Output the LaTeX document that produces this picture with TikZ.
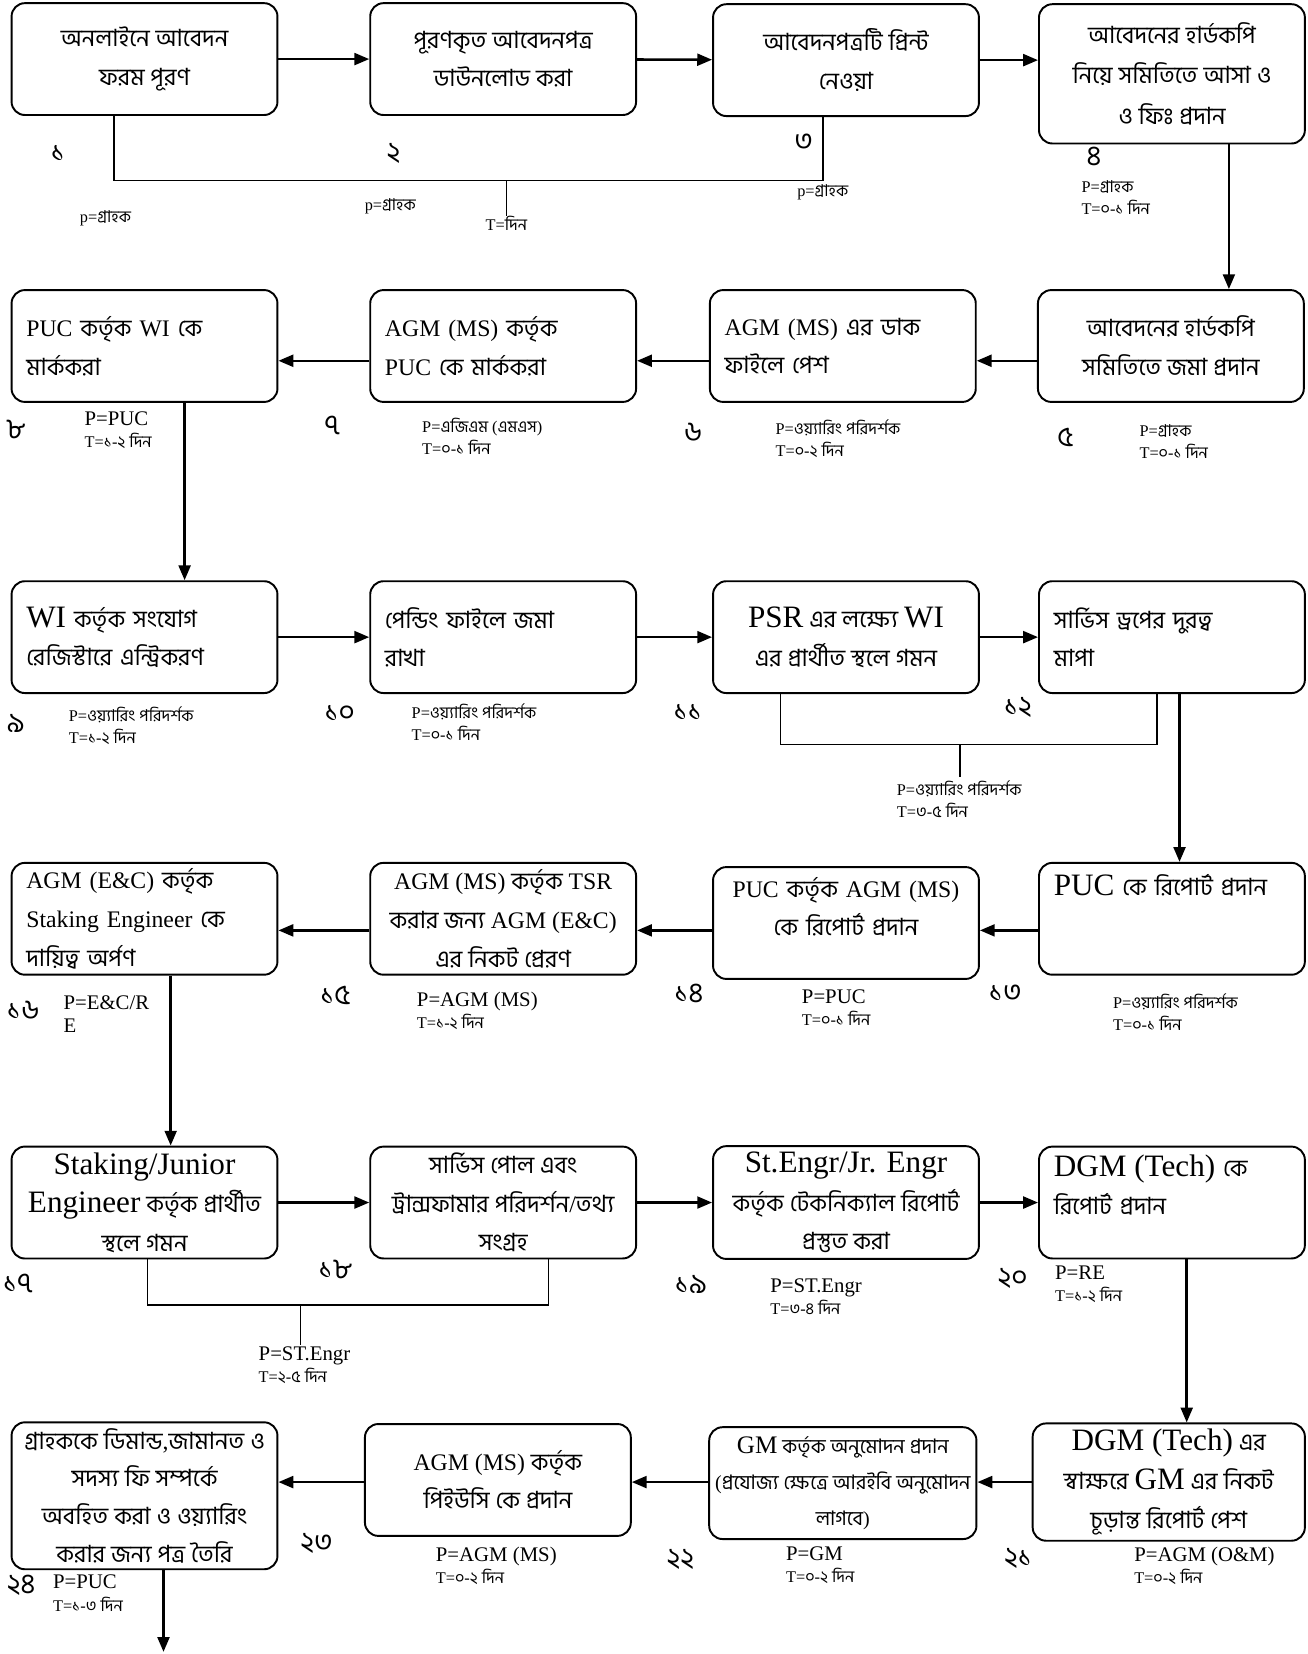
\documentclass[tikz,border=0pt]{standalone}
\usepackage{fontspec}
\setmainfont{Liberation Serif}
\newfontfamily\bnfont[Script=Bengali]{Hind Siliguri}
\usetikzlibrary{arrows.meta}

% Bengali letters switch to the Bengali face by themselves
\XeTeXinterchartokenstate=1
\newXeTeXintercharclass\bnclass
\count255="0980
\loop\ifnum\count255<"0A00
  \XeTeXcharclass\count255=\bnclass
  \advance\count255 by 1
\repeat
\XeTeXinterchartoks 0 \bnclass={\begingroup\bnfont}
\XeTeXinterchartoks 4095 \bnclass={\begingroup\bnfont}
\XeTeXinterchartoks \bnclass 0={\endgroup}
\XeTeXinterchartoks \bnclass 4095={\endgroup}

\newcommand\lat[1]{{\fontsize{21}{26}\selectfont #1}}
\newcommand\roletxt[1]{{\fontsize{14}{15}\selectfont #1}}

\begin{document}
\begin{tikzpicture}[x=0.025cm, y=-0.025cm,
    % Define Styles
    stage/.style={
        draw,
        rounded corners=9pt,
        line width=1.3pt,
        minimum width=6.3cm,
        minimum height=2.65cm,
        align=center,
        inner sep=4pt,
        font=\fontsize{16}{26}\selectfont
    },
    lstage/.style={
        stage,
        align=left,
        text width=5.6cm
    },
    flow/.style={
        draw,
        line width=1.7pt,
        -{Triangle[length=10pt,width=8pt]}
    },
    link/.style={
        draw,
        line width=1pt
    },
    stepno/.style={
        font=\fontsize{19}{20}\selectfont
    },
    tag/.style={
        align=left,
        anchor=north west,
        inner sep=0pt,
        font=\fontsize{11}{15}\selectfont
    }
    ]

    \useasboundingbox[fill=white] (0,0) rectangle (1240,1568);

    % Row 1
    \node[stage] (s1) at (137,56) {অনলাইনে আবেদন\\ফরম পূরণ};
    \node[stage] (s2) at (477,56) {পূরণকৃত আবেদনপত্র\\ডাউনলোড করা};
    \node[stage] (s3) at (802,57) {আবেদনপত্রটি প্রিন্ট\\নেওয়া};
    \node[stage, minimum height=3.3cm, font=\fontsize{16}{27}\selectfont] (s4) at (1111,70) {আবেদনের হার্ডকপি\\নিয়ে সমিতিতে আসা ও\\ও ফিঃ প্রদান};

    % Row 2
    \node[stage] (s5) at (1110,328) {আবেদনের হার্ডকপি\\সমিতিতে জমা প্রদান};
    \node[lstage] (s6) at (799,328) {AGM (MS) এর ডাক\\ফাইলে পেশ};
    \node[lstage] (s7) at (477,328) {AGM (MS) কর্তৃক\\PUC কে মার্ককরা};
    \node[lstage] (s8) at (137,328) {PUC কর্তৃক WI কে\\মার্ককরা};

    % Row 3
    \node[lstage] (s9) at (137,604) {\lat{WI} কর্তৃক সংযোগ\\রেজিস্টারে এন্ট্রিকরণ};
    \node[lstage] (s10) at (477,604) {পেন্ডিং ফাইলে জমা\\রাখা};
    \node[stage] (s11) at (802,604) {\lat{PSR} এর লক্ষ্যে \lat{WI}\\এর প্রার্থীত স্থলে গমন};
    \node[lstage] (s12) at (1111,604) {সার্ভিস ড্রপের দুরত্ব\\মাপা};

    % Row 4
    \node[lstage, text depth=1.6cm] (s13) at (1111,871) {\lat{PUC} কে রিপোর্ট প্রদান};
    \node[lstage, align=center, text depth=1.7cm] (s14) at (802,875) {PUC কর্তৃক AGM (MS)\\কে রিপোর্ট প্রদান};
    \node[stage] (s15) at (477,871) {AGM (MS) কর্তৃক TSR\\করার জন্য AGM (E\&C)\\এর নিকট প্রেরণ};
    \node[lstage] (s16) at (137,871) {AGM (E\&C) কর্তৃক\\Staking Engineer কে\\দায়িত্ব অর্পণ};

    % Row 5
    \node[stage] (s17) at (137,1140) {\lat{Staking/Junior}\\\lat{Engineer} কর্তৃক প্রার্থীত\\স্থলে গমন};
    \node[stage] (s18) at (477,1140) {সার্ভিস পোল এবং\\ট্রান্সফামার পরিদর্শন/তথ্য\\সংগ্রহ};
    \node[stage] (s19) at (802,1140) {\lat{St.Engr/Jr. Engr}\\কর্তৃক টেকনিক্যাল রিপোর্ট\\প্রস্তুত করা};
    \node[lstage, text depth=1.75cm] (s20) at (1111,1140) {\lat{DGM (Tech)} কে\\রিপোর্ট প্রদান};

    % Row 6
    \node[stage, minimum width=6.45cm] (s21) at (1108,1405) {\lat{DGM (Tech)} এর\\স্বাক্ষরে \lat{GM} এর নিকট\\চূড়ান্ত রিপোর্ট পেশ};
    \node[stage, font=\fontsize{13.5}{24}\selectfont] (s22) at (799,1406) {{\fontsize{17}{24}\selectfont GM} কর্তৃক অনুমোদন প্রদান\\(প্রযোজ্য ক্ষেত্রে আরইবি অনুমোদন\\লাগবে)};
    \node[stage] (s23) at (472,1403) {AGM (MS) কর্তৃক\\পিইউসি কে প্রদান};
    \node[stage, minimum height=3.43cm, font=\fontsize{16}{25.5}\selectfont] (s24) at (137,1418) {গ্রাহককে ডিমান্ড,জামানত ও\\সদস্য ফি সম্পর্কে\\অবহিত করা ও ওয়্যারিং\\করার জন্য পত্র তৈরি};

    % Row arrows
    \draw[flow] (s1) -- (s2);
    \draw[flow] (s2) -- (s3);
    \draw[flow] (s3.east) -- (s3.east -| s4.west);

    \coordinate (r2) at (0,342);
    \draw[flow] (s5.west |- r2) -- (s6.east |- r2);
    \draw[flow] (s6.west |- r2) -- (s7.east |- r2);
    \draw[flow] (s7.west |- r2) -- (s8.east |- r2);

    \draw[flow] (s9) -- (s10);
    \draw[flow] (s10) -- (s11);
    \draw[flow] (s11) -- (s12);

    \coordinate (r4) at (0,882);
    \draw[flow] (s13.west |- r4) -- (s14.east |- r4);
    \draw[flow] (s14.west |- r4) -- (s15.east |- r4);
    \draw[flow] (s15.west |- r4) -- (s16.east |- r4);

    \draw[flow] (s17) -- (s18);
    \draw[flow] (s18) -- (s19);
    \draw[flow] (s19) -- (s20);

    \coordinate (r6) at (0,1405);
    \draw[flow] (s21.west |- r6) -- (s22.east |- r6);
    \draw[flow] (s22.west |- r6) -- (s23.east |- r6);
    \draw[flow] (s23.west |- r6) -- (s24.east |- r6);

    % Down arrows between rows
    \draw[flow] ([xshift=1.35cm]s4.south) -- ([xshift=1.35cm]s4.south |- s5.north);
    \draw[flow] ([xshift=0.95cm]s8.south) -- ([xshift=0.95cm]s8.south |- s9.north);
    \draw[flow] ([xshift=0.18cm]s12.south) -- ([xshift=0.18cm]s12.south |- s13.north);
    \draw[flow] ([xshift=0.62cm]s16.south) -- ([xshift=0.62cm]s16.south |- s17.north);
    \draw[flow] ([xshift=0.35cm]s20.south) -- ([xshift=0.35cm]s20.south |- s21.north);
    \coordinate (fin) at (155,1566);
    \draw[flow] (s24.south -| fin) -- (fin);

    % Brackets
    \coordinate (j1) at (108,171);
    \coordinate (j3) at (780,171);
    \coordinate (t1) at (480,205);
    \draw[link] (s1.south -| j1) -- (j1) -- (j3) -- (s3.south -| j3);
    \draw[link] (t1 |- j1) -- (t1);

    \coordinate (j11) at (740,706);
    \coordinate (j12) at (1097,706);
    \coordinate (t11) at (910,737);
    \draw[link] (s11.south -| j11) -- (j11) -- (j12) -- (s12.south -| j12);
    \draw[link] (t11 |- j11) -- (t11);

    \coordinate (j17) at (140,1237);
    \coordinate (j18) at (520,1237);
    \coordinate (t17) at (285,1275);
    \draw[link] (s17.south -| j17) -- (j17) -- (j18) -- (s18.south -| j18);
    \draw[link] (t17 |- j17) -- (t17);

    % Step numbers
    \node[stepno] (n1) at (55,145) {১};
    \node[stepno] (n2) at (373,145) {২};
    \node[stepno] (n3) at (762,135) {৩};
    \node[stepno] (n4) at (1037,148) {৪};
    \node[stepno] (n5) at (1010,415) {৫};
    \node[stepno] (n6) at (657,410) {৬};
    \node[stepno] (n7) at (315,403) {৭};
    \node[stepno] (n8) at (15,407) {৮};
    \node[stepno] (n9) at (15,686) {৯};
    \node[stepno] (n10) at (322,676) {১০};
    \node[stepno] (n11) at (652,675) {১১};
    \node[stepno] (n12) at (965,671) {১২};
    \node[stepno] (n13) at (953,942) {১৩};
    \node[stepno] (n14) at (653,942) {১৪};
    \node[stepno] (n15) at (318,944) {১৫};
    \node[stepno] (n16) at (22,958) {১৬};
    \node[stepno] (n17) at (17,1217) {১৭};
    \node[stepno] (n18) at (318,1203) {১৮};
    \node[stepno] (n19) at (655,1218) {১৯};
    \node[stepno] (n20) at (960,1212) {২০};
    \node[stepno] (n21) at (965,1477) {২১};
    \node[stepno] (n22) at (645,1478) {২২};
    \node[stepno] (n23) at (300,1463) {২৩};
    \node[stepno] (n24) at (20,1503) {২৪};

    % Person and time tags
    \node[tag, anchor=center] (g1) at (100,207) {p=গ্রাহক};
    \node[tag, anchor=center] (g2) at (370,196) {p=গ্রাহক};
    \node[tag, anchor=center] (g3) at (780,182) {p=গ্রাহক};
    \node[tag, anchor=north] (g0) at (t1) {T=দিন};
    \node[tag] (g4) at (1025,171) {P=গ্রাহক\\T=০-১ দিন};
    \node[tag] (g5) at (1080,402) {P=গ্রাহক\\T=০-১ দিন};
    \node[tag] (g6) at (735,398) {P=ওয়্যারিং পরিদর্শক\\T=০-২ দিন};
    \node[tag] (g7) at (400,396) {P=এজিএম (এমএস)\\T=০-১ দিন};
    \node[tag] (g8) at (80,390) {\roletxt{P=PUC}\\T=১-২ দিন};
    \node[tag] (g9) at (65,670) {P=ওয়্যারিং পরিদর্শক\\T=১-২ দিন};
    \node[tag] (g10) at (390,667) {P=ওয়্যারিং পরিদর্শক\\T=০-১ দিন};
    \node[tag] (g11) at (850,740) {P=ওয়্যারিং পরিদর্শক\\T=৩-৫ দিন};
    \node[tag] (g13) at (1055,942) {P=ওয়্যারিং পরিদর্শক\\T=০-১ দিন};
    \node[tag] (g14) at (760,938) {\roletxt{P=PUC}\\T=০-১ দিন};
    \node[tag] (g15) at (395,940) {\roletxt{P=AGM (MS)}\\T=১-২ দিন};
    \node[tag] (g16) at (60,944) {\roletxt{P=E\&C/R}\\\roletxt{E}};
    \node[tag] (g17) at (245,1276) {\roletxt{P=ST.Engr}\\T=২-৫ দিন};
    \node[tag] (g19) at (730,1212) {\roletxt{P=ST.Engr}\\T=৩-৪ দিন};
    \node[tag] (g20) at (1000,1200) {\roletxt{P=RE}\\T=১-২ দিন};
    \node[tag] (g21) at (1075,1466) {\roletxt{P=AGM (O\&M)}\\T=০-২ দিন};
    \node[tag] (g22) at (745,1466) {\roletxt{P=GM}\\T=০-২ দিন};
    \node[tag] (g23) at (413,1466) {\roletxt{P=AGM (MS)}\\T=০-২ দিন};
    \node[tag] (g24) at (50,1493) {\roletxt{P=PUC}\\T=১-৩ দিন};

\end{tikzpicture}
\end{document}
